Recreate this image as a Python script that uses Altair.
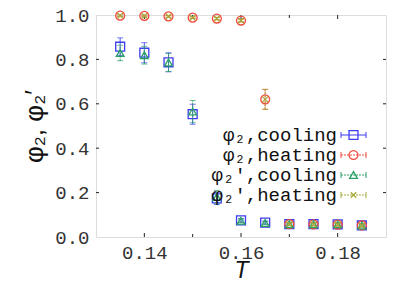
import altair as alt
import pandas as pd

T = [0.135, 0.14, 0.145, 0.15, 0.155, 0.16, 0.165, 0.17, 0.175, 0.18, 0.185]
cool2 = [0.857, 0.830, 0.787, 0.553, 0.174, 0.075, 0.065, 0.058, 0.058, 0.057, 0.052]
cool2_err = [0.040, 0.045, 0.043, 0.045, 0.028, 0.008, 0.007, 0.006, 0.006, 0.006, 0.006]
heat2 = [0.997, 0.996, 0.994, 0.988, 0.984, 0.975, 0.620, 0.058, 0.057, 0.056, 0.052]
heat2_err = [0.004, 0.004, 0.004, 0.004, 0.005, 0.006, 0.045, 0.006, 0.006, 0.006, 0.006]
cool2p = [0.829, 0.819, 0.786, 0.565, 0.180, 0.073, 0.063, 0.058, 0.058, 0.057, 0.052]
cool2p_err = [0.035, 0.040, 0.040, 0.050, 0.030, 0.008, 0.007, 0.006, 0.006, 0.006, 0.006]
heat2p = [0.997, 0.996, 0.994, 0.988, 0.984, 0.975, 0.620, 0.058, 0.057, 0.056, 0.052]
heat2p_err = [0.004, 0.004, 0.004, 0.004, 0.005, 0.006, 0.045, 0.006, 0.006, 0.006, 0.006]

labels = ["φ₂,cooling", "φ₂,heating", "φ₂′,cooling", "φ₂′,heating"]
colors = ["#3c3cf0", "#f04a3c", "#2aa064", "#a8a83a"]
shapes = ["square", "circle", "triangle-up", "M-1,-1L1,1M-1,1L1,-1"]
dashes = [[1, 0], [2, 1], [2, 1], [2, 1]]

x_major = [0.14, 0.16, 0.18]
x_minor = [0.15, 0.17]
y_ticks = [0.2, 0.4, 0.6, 0.8]

W, H = 290, 222
MONO = "Liberation Mono"
SANS = "Liberation Sans"

xs = alt.Scale(domain=[0.13, 0.19], nice=False, zero=False)
ys = alt.Scale(domain=[0.0, 1.0], nice=False)

series = [cool2, heat2, cool2p, heat2p]
errs = [cool2_err, heat2_err, cool2p_err, heat2p_err]

layers = []

# axes (base layer)
axis_df = pd.DataFrame({"T": T, "v": cool2})
base = alt.Chart(axis_df).mark_point(opacity=0).encode(
    x=alt.X("T:Q", scale=xs, title="T",
            axis=alt.Axis(values=x_major, format=".2f", labelFont=MONO, labelFontSize=19,
                          labelColor="#333", tickSize=0, domain=False, grid=False,
                          labelPadding=6, titleFont=SANS, titleFontSize=23,
                          titleFontStyle="italic", titleFontWeight="normal",
                          titleColor="#111", titleY=40, titleBaseline="alphabetic")),
    y=alt.Y("v:Q", scale=ys, title="φ₂, φ₂′",
            axis=alt.Axis(values=[0, 0.2, 0.4, 0.6, 0.8, 1.0], format=".1f", labelFont=MONO,
                          labelFontSize=19, labelColor="#333", tickSize=0, domain=False,
                          grid=False, labelPadding=7, titleFont=SANS, titleFontSize=26,
                          titleFontWeight="normal", titleColor="#111", titleX=-62,
                          titleY=H / 2, titleAngle=-90, titleBaseline="middle",
                          titleAlign="center")),
)
layers.append(base)

# inward ticks
xt = pd.DataFrame({"t": x_major})
xm = pd.DataFrame({"t": x_minor})
yt = pd.DataFrame({"t": y_ticks})
for df, ln in [(xt, 4), (xm, 3)]:
    layers.append(alt.Chart(df).mark_rule(color="#222", strokeWidth=1).encode(
        x=alt.X("t:Q", scale=xs), y=alt.value(H - ln), y2=alt.value(H)))
    layers.append(alt.Chart(df).mark_rule(color="#222", strokeWidth=1).encode(
        x=alt.X("t:Q", scale=xs), y=alt.value(0), y2=alt.value(ln)))
layers.append(alt.Chart(yt).mark_rule(color="#222", strokeWidth=1).encode(
    y=alt.Y("t:Q", scale=ys), x=alt.value(0), x2=alt.value(3)))
layers.append(alt.Chart(yt).mark_rule(color="#222", strokeWidth=1).encode(
    y=alt.Y("t:Q", scale=ys), x=alt.value(W - 3), x2=alt.value(W)))

# data series
for i in range(4):
    df = pd.DataFrame({"T": T, "v": series[i], "e": errs[i]})
    df["lo"] = df["v"] - df["e"]
    df["hi"] = df["v"] + df["e"]
    c = colors[i]
    layers.append(alt.Chart(df).mark_rule(color=c, strokeWidth=1, strokeDash=dashes[i]).encode(
        x=alt.X("T:Q", scale=xs), y=alt.Y("lo:Q", scale=ys), y2="hi:Q"))
    for col in ["lo", "hi"]:
        layers.append(alt.Chart(df).mark_tick(color=c, orient="horizontal", size=6, thickness=1).encode(
            x=alt.X("T:Q", scale=xs), y=alt.Y(f"{col}:Q", scale=ys)))
    size = 60 if i == 2 else (30 if i == 3 else 80)
    layers.append(alt.Chart(df).mark_point(shape=shapes[i], filled=False, color=c, size=size,
                                           strokeWidth=1.3, opacity=1).encode(
        x=alt.X("T:Q", scale=xs), y=alt.Y("v:Q", scale=ys)))

# legend
row_y = [120, 140, 160, 180]
lx0, lx1 = 245, 270
for i in range(4):
    ldf = pd.DataFrame({"label": [labels[i]]})
    c = colors[i]
    layers.append(alt.Chart(ldf).mark_text(align="right", baseline="middle", font=MONO,
                                           fontSize=19, color="#111").encode(
        text="label:N", x=alt.value(241), y=alt.value(row_y[i])))
    layers.append(alt.Chart(ldf).mark_rule(color=c, strokeWidth=1, strokeDash=dashes[i]).encode(
        x=alt.value(lx0), x2=alt.value(lx1), y=alt.value(row_y[i])))
    for xx in [lx0, lx1]:
        layers.append(alt.Chart(ldf).mark_rule(color=c, strokeWidth=1).encode(
            x=alt.value(xx), y=alt.value(row_y[i] - 3), y2=alt.value(row_y[i] + 3)))
    size = 60 if i == 2 else (30 if i == 3 else 80)
    layers.append(alt.Chart(ldf).mark_point(shape=shapes[i], filled=False, color=c, size=size,
                                            strokeWidth=1.3, opacity=1).encode(
        x=alt.value((lx0 + lx1) / 2), y=alt.value(row_y[i])))

chart = alt.layer(*layers).properties(
    width=W, height=H,
    autosize=alt.AutoSizeParams(type="none"),
    padding={"left": 88, "top": 7, "right": 15, "bottom": 41},
).configure_view(stroke="#111", strokeWidth=1).configure(background="white")

chart.save("out.html", embed_options={"renderer": "svg", "actions": False})
